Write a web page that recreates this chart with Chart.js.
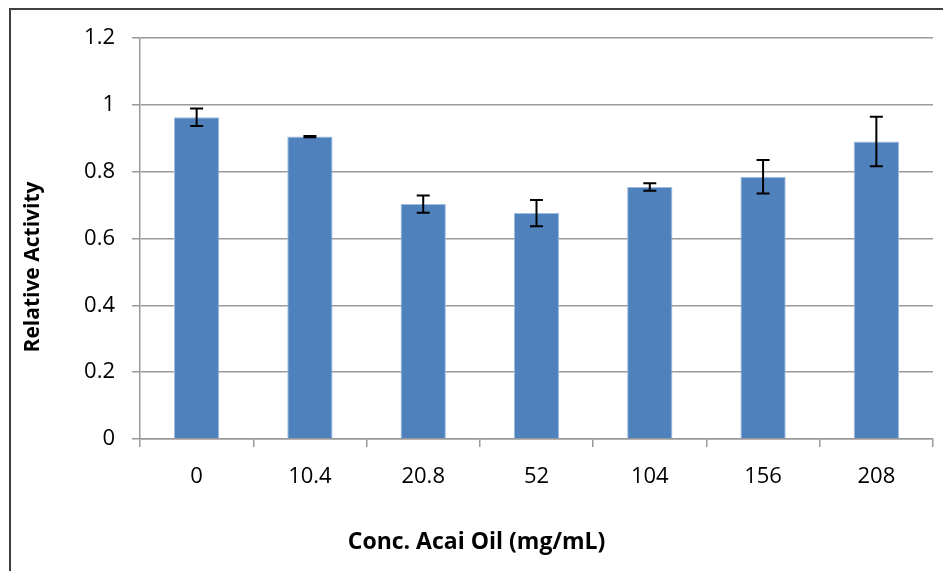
<!DOCTYPE html>
<html>
<head>
<meta charset="utf-8">
<script src="https://cdn.jsdelivr.net/npm/chart.js@4.4.0/dist/chart.umd.min.js"></script>
<style>
  body { margin: 0; background: #fff; }
  #wrap { position: relative; width: 943px; height: 571px; overflow: hidden; }
  #frame {
    position: absolute; left: 9px; top: 8px; width: 960px; height: 600px;
    border-left: 2px solid #404040; border-top: 2px solid #404040;
  }
  #chart { position: absolute; left: 0; top: 0; }
</style>
</head>
<body>
<div id="wrap">
  <div id="frame"></div>
  <canvas id="chart" width="943" height="571"></canvas>
</div>
<script>
const concentrations = ["0", "10.4", "20.8", "52", "104", "156", "208"];
const relativeActivity = [0.963, 0.905, 0.703, 0.676, 0.754, 0.785, 0.89];
const errorValues = [0.026, 0.002, 0.026, 0.039, 0.011, 0.05, 0.074];

const titleX = "Conc. Acai Oil (mg/mL)";
const titleY = "Relative Activity";

const fontFamily = "'Open Sans', 'Liberation Sans', sans-serif";
const gridColor = "#9a9a9a";

// error bars, drawn from the y scale
const errorBarPlugin = {
  id: "errorBars",
  afterDatasetsDraw(chart) {
    const ctx = chart.ctx;
    const y = chart.scales.y;
    const meta = chart.getDatasetMeta(0);
    ctx.save();
    ctx.strokeStyle = "#000";
    ctx.lineWidth = 2;
    meta.data.forEach(function (bar, i) {
      const v = relativeActivity[i];
      const e = errorValues[i];
      const top = y.getPixelForValue(v + e);
      const bottom = y.getPixelForValue(v - e);
      const cap = 6.5;
      ctx.beginPath();
      ctx.moveTo(bar.x, top);
      ctx.lineTo(bar.x, bottom);
      ctx.moveTo(bar.x - cap, top);
      ctx.lineTo(bar.x + cap, top);
      ctx.moveTo(bar.x - cap, bottom);
      ctx.lineTo(bar.x + cap, bottom);
      ctx.stroke();
    });
    ctx.restore();
  },
};

// rotated y title, centred on the whole chart like excel does
const yTitlePlugin = {
  id: "yTitle",
  afterDraw(chart) {
    const ctx = chart.ctx;
    ctx.save();
    ctx.translate(33, 267);
    ctx.rotate(-Math.PI / 2);
    ctx.font = "bold 21px " + fontFamily;
    ctx.fillStyle = "#000";
    ctx.textAlign = "center";
    ctx.textBaseline = "middle";
    ctx.fillText(titleY, 0, 0);
    ctx.restore();
  },
};

function getOptions() {
  return {
    responsive: false,
    animation: false,
    layout: {
      padding: { left: 20, right: 10, top: 38, bottom: 0 },
    },
    scales: {
      x: {
        afterFit: function (scale) {
          scale.height = 89.4;
        },
        grid: {
          offset: true,
          drawOnChartArea: false,
          drawTicks: true,
          tickLength: 8,
          color: gridColor,
          lineWidth: 1.5,
        },
        border: { display: true, color: gridColor, width: 1.5 },
        ticks: {
          padding: 17,
          color: "#000",
          font: { family: fontFamily, size: 22 },
        },
      },
      y: {
        min: 0,
        max: 1.2,
        afterFit: function (scale) {
          scale.width = 120;
        },
        grid: {
          color: gridColor,
          lineWidth: 1.5,
          tickLength: 8,
        },
        border: { display: true, color: gridColor, width: 1.5 },
        ticks: {
          stepSize: 0.2,
          padding: 17,
          color: "#000",
          font: { family: fontFamily, size: 22 },
          callback: function (val) {
            return Math.round(val * 10) / 10;
          },
        },
      },
    },
    plugins: {
      legend: { display: false },
      tooltip: { enabled: false },
      title: {
        display: true,
        position: "bottom",
        text: titleX,
        color: "#000",
        font: { family: fontFamily, size: 23, weight: "bold" },
        padding: { top: 0, bottom: 15 },
      },
    },
  };
}

new Chart(document.getElementById("chart"), {
  type: "bar",
  data: {
    labels: concentrations,
    datasets: [
      {
        data: relativeActivity,
        backgroundColor: "#4f81bd",
        borderColor: "#9fbce0",
        borderWidth: 1,
        barPercentage: 0.4,
        categoryPercentage: 1.0,
      },
    ],
  },
  options: getOptions(),
  plugins: [errorBarPlugin, yTitlePlugin],
});
</script>
</body>
</html>
